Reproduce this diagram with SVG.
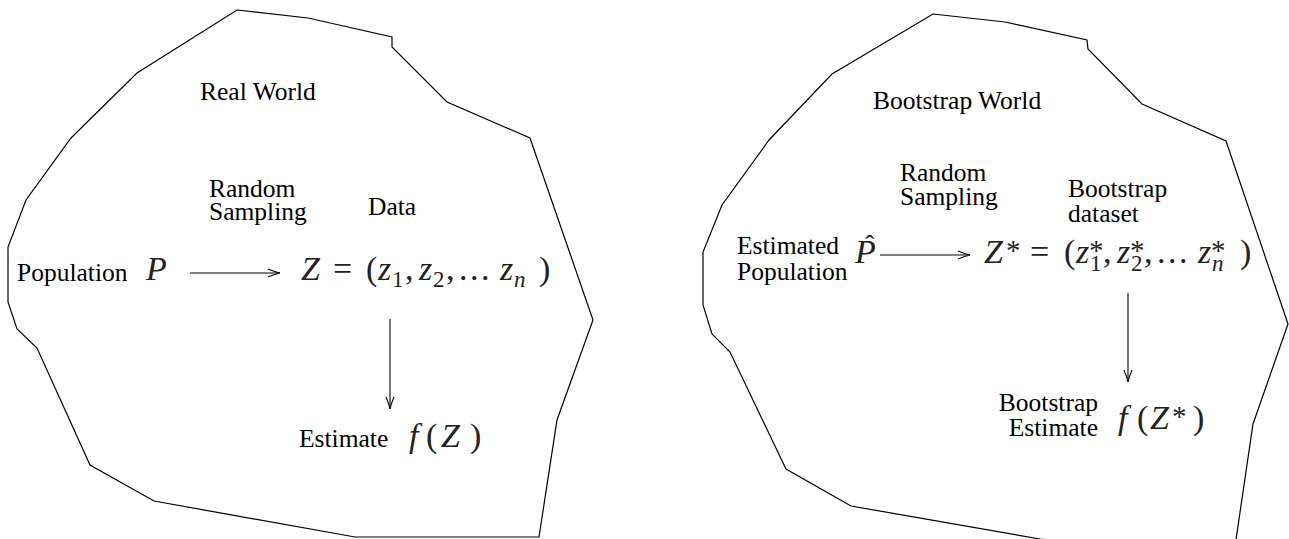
<svg xmlns="http://www.w3.org/2000/svg" width="1289" height="539" viewBox="0 0 1289 539">
<defs>
<style>
.blob{fill:none;stroke:#000;stroke-width:1.2;stroke-linejoin:miter}
.t{font-family:"Liberation Serif","Times New Roman",serif;font-size:25.5px;fill:#000}
.m{font-family:"Liberation Serif","Times New Roman",serif;font-size:34px;fill:#222}
.it{font-style:italic}
.s{font-size:23px}
.a{font-size:29px}
.con{fill:none;stroke:#000;stroke-width:1.1}
</style>
<marker id="arr" viewBox="0 0 14 10" refX="13" refY="5" markerWidth="14" markerHeight="10" markerUnits="userSpaceOnUse" orient="auto">
<path d="M1,1 Q8,4 13,5 Q8,6 1,9" fill="none" stroke="#000" stroke-width="1.1"/>
</marker>
</defs>
<rect width="1289" height="539" fill="#fff"/>

<g id="real-world">
<polygon class="blob" points="237,10 308,18 392,37 392,47 447,102 530,138 593,320 557,420 539,537 355,537 154,501 90,465 37,348 17,329 8,302 8,247 26,200 71,138 137,73"/>
<text class="t" x="200" y="100">Real World</text>
</g>

<g id="random-sampling-1">
<text class="t" x="209" y="197">Random</text>
<text class="t" x="209" y="220">Sampling</text>
</g>

<g id="data-label">
<text class="t" x="368" y="215">Data</text>
</g>

<g id="population">
<text class="t" x="17" y="281">Population</text>
<text class="m it" x="146" y="280">P</text>
</g>

<g id="data">
<text class="m" y="280"><tspan x="301" class="it">Z</tspan><tspan x="333">=</tspan><tspan x="366">(</tspan><tspan x="378" class="it">z</tspan><tspan x="392" y="287" class="s">1</tspan><tspan x="405" y="280">,</tspan><tspan x="419" class="it">z</tspan><tspan x="433" y="287" class="s">2</tspan><tspan x="446" y="280">,</tspan><tspan x="459">.</tspan><tspan x="470">.</tspan><tspan x="481">.</tspan><tspan x="500" class="it">z</tspan><tspan x="514" y="287" class="s it">n</tspan><tspan x="539" y="280">)</tspan></text>
</g>

<g id="estimate">
<text class="t" x="299" y="447">Estimate</text>
<text class="m" y="447"><tspan x="409" class="it">f</tspan><tspan x="426">(</tspan><tspan x="441" class="it">Z</tspan><tspan x="470">)</tspan></text>
</g>

<g id="bootstrap-world">
<polygon class="blob" points="933,14 1005,22 1087,40 1088,49 1142,104 1226,141 1288,324 1253,424 1233,560 1040,539 851,506 786,469 730,352 712,334 703,305 703,252 722,205 769,140 832,74"/>
<text class="t" x="873" y="109">Bootstrap World</text>
</g>

<g id="random-sampling-2">
<text class="t" x="900" y="181">Random</text>
<text class="t" x="900" y="205">Sampling</text>
</g>

<g id="bootstrap-dataset-label">
<text class="t" x="1068" y="197">Bootstrap</text>
<text class="t" x="1068" y="222">dataset</text>
</g>

<g id="estimated-population">
<text class="t" x="737" y="254">Estimated</text>
<text class="t" x="737" y="280">Population</text>
<text class="m" y="263"><tspan x="855" class="it">P</tspan><tspan x="865" y="254" font-size="28">ˆ</tspan></text>
</g>

<g id="bootstrap-dataset">
<text class="m" y="263"><tspan x="984" class="it">Z</tspan><tspan x="1006" y="260" class="a">*</tspan><tspan x="1030" y="263">=</tspan><tspan x="1064">(</tspan><tspan x="1076" class="it">z</tspan><tspan x="1089" y="260" class="a">*</tspan><tspan x="1090" y="271" class="s">1</tspan><tspan x="1103" y="263">,</tspan><tspan x="1117" class="it">z</tspan><tspan x="1130" y="260" class="a">*</tspan><tspan x="1131" y="271" class="s">2</tspan><tspan x="1144" y="263">,</tspan><tspan x="1157">.</tspan><tspan x="1168">.</tspan><tspan x="1179">.</tspan><tspan x="1198" class="it">z</tspan><tspan x="1211" y="260" class="a">*</tspan><tspan x="1212" y="271" class="s it">n</tspan><tspan x="1240" y="263">)</tspan></text>
</g>

<g id="bootstrap-estimate">
<text class="t" x="1098" y="411" text-anchor="end">Bootstrap</text>
<text class="t" x="1098" y="436" text-anchor="end">Estimate</text>
<text class="m" y="429"><tspan x="1118" class="it">f</tspan><tspan x="1137">(</tspan><tspan x="1150" class="it">Z</tspan><tspan x="1172" y="426" class="a">*</tspan><tspan x="1193" y="429">)</tspan></text>
</g>

<g id="connectors">
<line class="con" x1="190" y1="273" x2="280" y2="273" marker-end="url(#arr)"/>
<line class="con" x1="390" y1="319" x2="390" y2="409" marker-end="url(#arr)"/>
<line class="con" x1="880" y1="255" x2="970" y2="255" marker-end="url(#arr)"/>
<line class="con" x1="1128" y1="293" x2="1128" y2="382" marker-end="url(#arr)"/>
</g>
</svg>
